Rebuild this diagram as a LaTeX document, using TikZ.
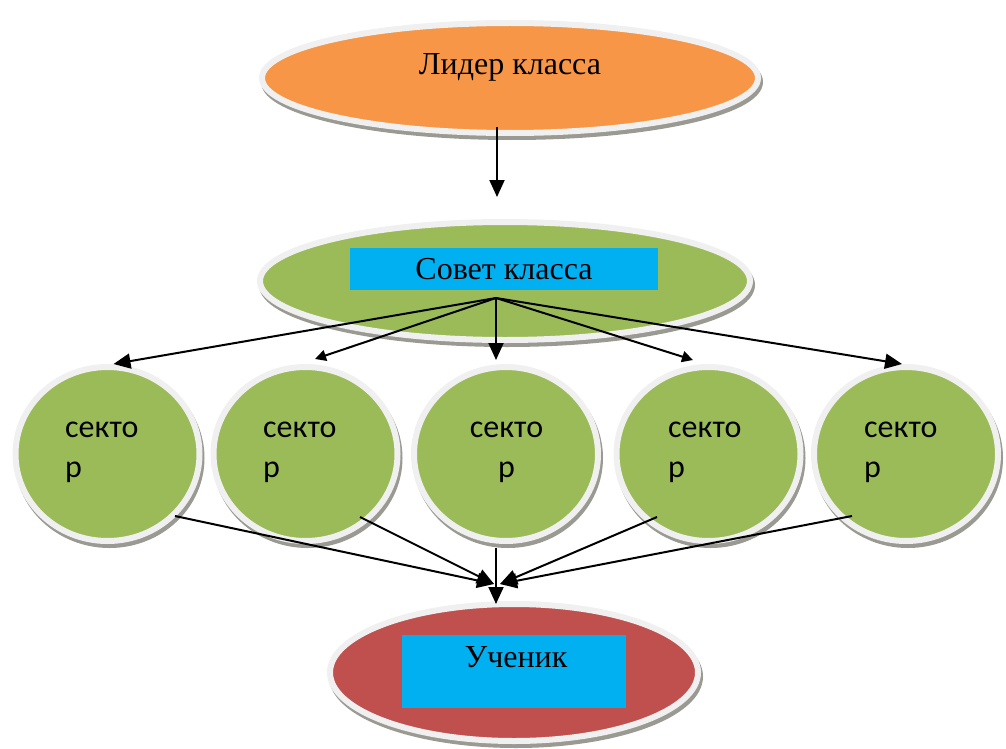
\documentclass[tikz,border=0pt]{standalone}
\usepackage{fontspec}
\setmainfont{Liberation Serif}
\newfontfamily\secfont{Carlito}
\usetikzlibrary{shapes.geometric,arrows.meta}
\definecolor{orng}{HTML}{F79646}
\definecolor{grn}{HTML}{9BBB59}
\definecolor{rd}{HTML}{C0504D}
\definecolor{blu}{HTML}{00B0F0}
\definecolor{bordergray}{HTML}{F0F0F0}
\definecolor{shadowgray}{HTML}{9A9A92}
\begin{document}
\begin{tikzpicture}[x=1pt,y=-1pt,
  shp/.style={draw=bordergray, line width=6pt, inner sep=0pt,
    preaction={draw=shadowgray, fill=shadowgray, line width=6pt,
      transform canvas={shift={(2pt,-4pt)}}}},
  oval/.style={shp, ellipse},
  lbl/.style={font=\fontsize{32}{38}\selectfont, inner sep=0pt},
  rect/.style={rectangle, fill=blu, inner sep=0pt, font=\fontsize{32}{38}\selectfont},
  sec/.style={font=\secfont\fontsize{32}{40}\selectfont, inner sep=0pt},
  arr/.style={line width=2pt, -{Triangle[length=17pt,width=15pt]}},
  arrs/.style={line width=2pt, -{Triangle[length=11pt,width=11pt]}}
]
\useasboundingbox (0,0) rectangle (1006,749);
% ellipses
\node[oval, fill=orng, minimum width=496pt, minimum height=110pt] (lead) at (510,78) {};
\node[lbl, anchor=base] (leadt) at (510,75) {Лидер класса};
\node[oval, fill=grn, minimum width=490pt, minimum height=118pt] (sov) at (505,281) {};
\node[rect, minimum width=308pt, minimum height=42pt] (sovr) at (504,269) {Совет класса};
\node[oval, fill=rd, minimum width=368pt, minimum height=137pt] (uch) at (514,672.5) {};
\node[rect, minimum width=224pt, minimum height=73pt] (uchr) at (514,671.5) {};
\node[lbl, anchor=base] (ucht) at (516,667) {Ученик};
% sector circles
\foreach \i/\x in {1/107.5, 2/305.5, 3/506, 4/708.5, 5/906}
  \node[oval, fill=grn, minimum width=184pt, minimum height=174pt] (c\i) at (\x,454) {};
\node[sec, align=left, anchor=north west] (t1) at (65,422) {секто\\р};
\node[sec, align=left, anchor=north west] (t2) at (263,422) {секто\\р};
\node[sec, align=center, anchor=north] (t3) at (506.5,422) {секто\\р};
\node[sec, align=left, anchor=north west] (t4) at (668,422) {секто\\р};
\node[sec, align=left, anchor=north west] (t5) at (864,422) {секто\\р};
% arrows
\coordinate (a0) at (497,127);
\coordinate (a1) at (497,197);
\draw[arr] (a0) -- (a1);
\coordinate (hub) at (496,298);
\draw[arr] (hub) -- ([xshift=6pt]c1.north);
\draw[arrs] (hub) -- ([xshift=9.5pt,yshift=5pt]c2.north);
\draw[arr] (hub) -- ([yshift=4pt]hub |- c3.north);
\draw[arrs] (hub) -- ([xshift=-15.5pt,yshift=4pt]c4.north);
\draw[arr] (hub) -- ([xshift=-4pt]c5.north);
\coordinate (jl) at (494,584);
\coordinate (jr) at (500,584);
\draw[arr] ([xshift=67.5pt,yshift=-62pt]c1.center) -- (jl);
\draw[arr] ([xshift=54.5pt,yshift=-63pt]c2.center) -- (jl);
\draw[arr] ([yshift=-4pt]hub |- c3.south) -- ([yshift=-3pt]hub |- uch.north);
\draw[arr] ([xshift=-51.5pt,yshift=-63pt]c4.center) -- (jr);
\draw[arr] ([xshift=-54pt,yshift=-62pt]c5.center) -- (jr);
\end{tikzpicture}
\end{document}
